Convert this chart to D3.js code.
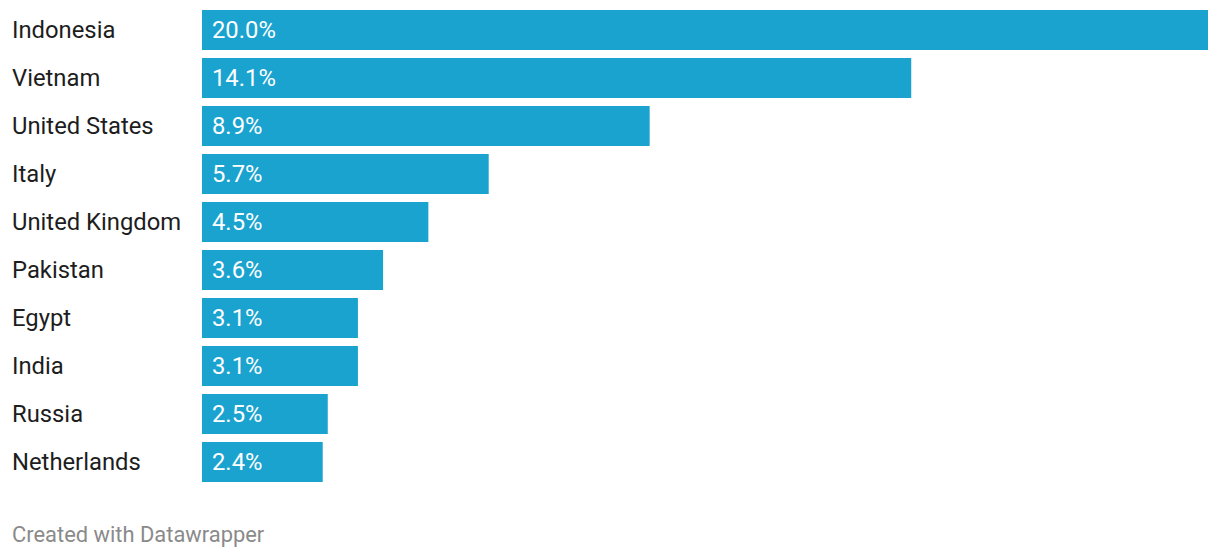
<!DOCTYPE html>
<html><head><meta charset="utf-8">
<script src="https://cdn.jsdelivr.net/npm/d3@7"></script>
<style>body{margin:0;background:#fff;}svg{display:block;}</style>
</head><body>
<svg id="chart" width="1220" height="558"></svg>
<script>
const countries = ["Indonesia","Vietnam","United States","Italy","United Kingdom","Pakistan","Egypt","India","Russia","Netherlands"];
const values = [20.0,14.1,8.9,5.7,4.5,3.6,3.1,3.1,2.5,2.4];
const footer = "Created with Datawrapper";

const data = countries.map((c,i) => ({country: c, value: values[i]}));
const svg = d3.select("#chart");
const x = d3.scaleLinear().domain([0,20]).range([202,1208]);
const y = d3.scaleBand().domain(countries).range([6,486]).paddingInner(1/6).paddingOuter(1/12);

const rows = svg.append("g").selectAll("g").data(data).enter().append("g");
rows.append("rect")
  .attr("x", x(0))
  .attr("y", d => y(d.country))
  .attr("width", d => x(d.value) - x(0))
  .attr("height", y.bandwidth())
  .attr("fill", "#1ba3cf");
rows.append("text")
  .attr("x", 12)
  .attr("y", d => y(d.country) + y.bandwidth()/2)
  .attr("dy", "0.34em")
  .attr("font-family", "Roboto")
  .attr("font-size", 23.8)
  .attr("fill", "#1d1d1d")
  .text(d => d.country);
rows.append("text")
  .attr("x", x(0) + 10)
  .attr("y", d => y(d.country) + y.bandwidth()/2)
  .attr("dy", "0.34em")
  .attr("font-family", "Roboto")
  .attr("font-size", 23.8)
  .attr("fill", "#ffffff")
  .text(d => d.value.toFixed(1) + "%");

svg.append("text")
  .attr("x", 12).attr("y", 541.5)
  .attr("font-family", "Roboto").attr("font-size", 21.9)
  .attr("fill", "#8a8a8a")
  .text(footer);
</script>
</body></html>
